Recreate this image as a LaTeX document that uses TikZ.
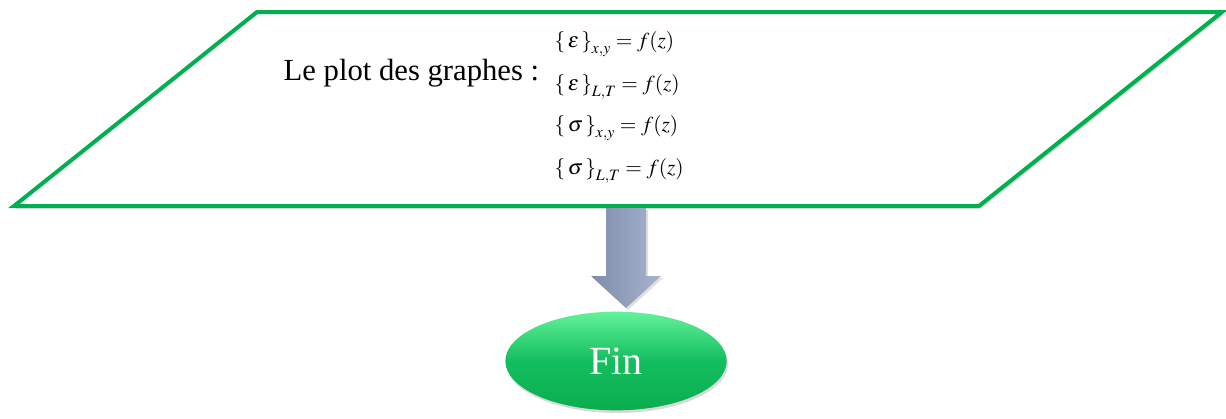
\documentclass[tikz,border=0pt]{standalone}
\usepackage{mathptmx}
\usepackage[no-math]{fontspec}
\setmainfont{Liberation Serif}
\usetikzlibrary{shapes.geometric,shadows,calc}
\definecolor{Leaf}{HTML}{00B050}
\definecolor{LeafLight}{HTML}{62F29A}
\definecolor{LeafDark}{HTML}{0AAE4E}
\definecolor{Slate}{HTML}{7D8CAB}
\definecolor{SlateLight}{HTML}{A8B4CE}

\begin{document}
\begin{tikzpicture}[x=.75pt,y=-.75pt]
    \useasboundingbox (0,0) rectangle (1226,418);
    % data box
    \coordinate (tl) at (257,12);
    \coordinate (tr) at (1222,12);
    \coordinate (br) at (979,206);
    \coordinate (bl) at (14,206);
    \filldraw[draw=Leaf,fill=white,line width=3pt,line join=miter,
      drop shadow={opacity=.3,shadow xshift=1.5pt,shadow yshift=-2pt}]
      (tl) -- (tr) -- (br) -- (bl) -- cycle;
    \node[anchor=base west,font=\fontsize{23}{26}\selectfont] (lbl) at (279,80) {Le plot des graphes :};
    \node[anchor=west,font=\fontsize{16}{18}\selectfont] (eq1) at (550,44) {$\left\{\,\varepsilon\,\right\}_{x,y} = f(z)$};
    \node[anchor=west,font=\fontsize{16}{18}\selectfont] (eq2) at (550,87) {$\left\{\,\varepsilon\,\right\}_{L,T} = f(z)$};
    \node[anchor=west,font=\fontsize{16}{18}\selectfont] (eq3) at (550,128) {$\left\{\,\sigma\,\right\}_{x,y} = f(z)$};
    \node[anchor=west,font=\fontsize{16}{18}\selectfont] (eq4) at (550,171) {$\left\{\,\sigma\,\right\}_{L,T} = f(z)$};
    % end
    \node[ellipse,minimum width=166pt,minimum height=74pt,inner sep=0pt,
      top color=LeafLight,bottom color=LeafDark,middle color=Leaf!80!LeafLight,
      drop shadow={opacity=.3,shadow xshift=1pt,shadow yshift=-2pt},
      text=white,font=\fontsize{30}{33}\selectfont] (fin) at (616,361) {Fin};
    % arrow
    \coordinate (aTop) at (626,208);
    \shade[left color=Slate,right color=SlateLight,
      drop shadow={opacity=.25,shadow xshift=1.5pt,shadow yshift=-1.5pt}]
      ($(aTop)+(-20,0)$) -- ($(aTop)+(20,0)$) -- ($(aTop)+(20,68)$)
      -- ($(aTop)+(35,68)$) -- ($(aTop)+(0,100)$) -- ($(aTop)+(-35,68)$)
      -- ($(aTop)+(-20,68)$) -- cycle;
  \end{tikzpicture}
\end{document}
